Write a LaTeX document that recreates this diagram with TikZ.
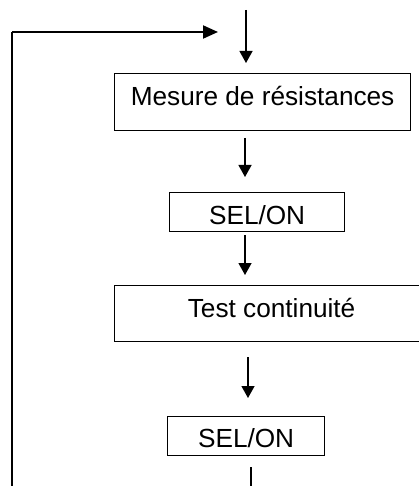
\documentclass[tikz,border=0pt]{standalone}
\usepackage{fontspec}
\setmainfont{Liberation Sans}
\usetikzlibrary{arrows.meta}
\begin{document}
\begin{tikzpicture}[x=1pt,y=-1pt,
  box/.style={draw=black,line width=1.2pt,inner sep=0pt,anchor=north west,
    font=\fontsize{26.2}{31}\selectfont},
  flow/.style={line width=1.3pt,-{Triangle[length=12pt,width=13pt]}},
  loopline/.style={line width=2pt},
  looparrow/.style={line width=2pt,-{Triangle[length=15pt,width=13pt]}}]
\useasboundingbox (0,0) rectangle (419,486);
\begin{scope}
\clip (0,0) rectangle (419,486);
\node[box,minimum width=296pt,text height=32pt,text depth=25pt] (b1) at (114,73) {Mesure de résistances};
\node[box,minimum width=175pt,text height=32pt,text depth=7pt] (b2) at (169,192) {SEL/ON};
\node[box,minimum width=314pt,text height=32pt,text depth=24pt] (b3) at (114,285) {Test continuité};
\node[box,minimum width=157pt,text height=31pt,text depth=8pt] (b4) at (167,416) {SEL/ON};

\coordinate (s0) at (246,10);
\coordinate (t0) at (246,63);
\coordinate (s1) at (245,138);
\coordinate (t1) at (245,177);
\coordinate (s2) at (245,235);
\coordinate (t2) at (245,275);
\coordinate (s3) at (248,357);
\coordinate (t3) at (248,398);
\coordinate (s4) at (251,467);
\coordinate (e4) at (251,490);
\coordinate (l0) at (12,490);
\coordinate (l1) at (12,32);
\coordinate (l2) at (218,32);

\draw[flow] (s0) -- (t0);
\draw[flow] (s1) -- (t1);
\draw[flow] (s2) -- (t2);
\draw[flow] (s3) -- (t3);
\draw[line width=1.3pt] (s4) -- (e4);
\draw[loopline] (l0) -- (l1);
\draw[looparrow] (l1) -- (l2);
\end{scope}
\end{tikzpicture}
\end{document}
